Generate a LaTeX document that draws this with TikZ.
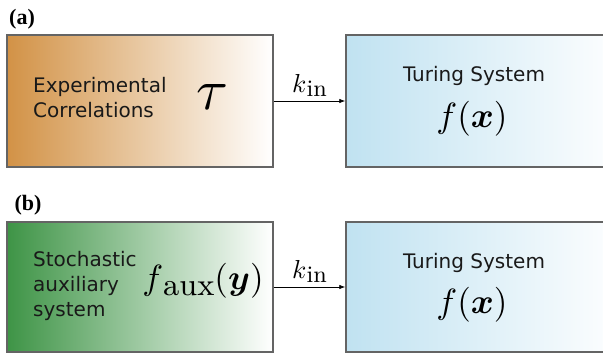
\documentclass[tikz,border=0pt]{standalone}
\usepackage{fontspec}
\usepackage{graphicx}
\usepackage{amsmath}
\usepackage{bm}
\newfontfamily\dv{DejaVu Sans}
\newfontfamily\tnr{Liberation Serif}
\usetikzlibrary{arrows.meta}
\definecolor{orangeL}{RGB}{210,146,70}
\definecolor{greenL}{RGB}{62,148,70}
\definecolor{blueL}{RGB}{192,226,241}
\definecolor{boxline}{RGB}{100,100,100}
\definecolor{txt}{RGB}{25,25,25}
\tikzset{
  panel/.style={draw=boxline, line width=1.5pt, inner sep=0pt, minimum height=132pt},
  lbl/.style={font=\dv\fontsize{20}{25}\selectfont, text=txt, align=left, inner sep=0pt},
  tag/.style={font=\tnr\bfseries\fontsize{22}{22}\selectfont, inner sep=0pt},
  conn/.style={line width=0.8pt, -{Latex[length=6pt,width=4.5pt]}},
  mathlbl/.style={inner sep=0pt, text=black}
}
\newcommand{\kinlabel}{\scalebox{2.6}{$k$\raisebox{-1.5pt}{\fontsize{9.1}{9}\selectfont in}}}
\begin{document}
\begin{tikzpicture}[x=1pt,y=-1pt]
\useasboundingbox (0,0) rectangle (603,353);
\clip (0,0) rectangle (603,353);
% panel (a)
\node[tag] (ta) at (22,19) {(a)};
\node[panel, minimum width=266pt, left color=orangeL, right color=white] (A) at (140,101) {};
\node[panel, minimum width=280pt, left color=blueL, right color=white] (RA) at (486,101) {};
\node[lbl, anchor=west] (expt) at (33,98) {Experimental\\Correlations};
\node[mathlbl] (tau) at (212,97) {\scalebox{5.8}{$\tau$}};
\draw[conn] (A.east) -- (RA.west) node[midway, above=4pt, mathlbl] (kA) {\kinlabel};
\node[lbl, anchor=base] (tsA) at (474,82) {Turing System};
\node[mathlbl] (fA) at (472,119) {\scalebox{3.5}{$f(\bm{x})$}};
% panel (b)
\node[tag] (tb) at (28,205) {(b)};
\node[panel, minimum width=266pt, minimum height=130pt, left color=greenL, right color=white] (B) at (140,287) {};
\node[panel, minimum width=280pt, minimum height=130pt, left color=blueL, right color=white] (RB) at (486,287) {};
\node[lbl, anchor=west] (stoch) at (33,286) {Stochastic\\auxiliary\\system};
\node[mathlbl] (faux) at (203,281) {\scalebox{3.5}{$f$\raisebox{-1.6pt}{\fontsize{9}{9}\selectfont aux}$(\bm{y})$}};
\draw[conn] (B.east) -- (RB.west) node[midway, above=4pt, mathlbl] (kB) {\kinlabel};
\node[lbl, anchor=base] (tsB) at (474,268) {Turing System};
\node[mathlbl] (fB) at (472,305) {\scalebox{3.5}{$f(\bm{x})$}};
\end{tikzpicture}
\end{document}
